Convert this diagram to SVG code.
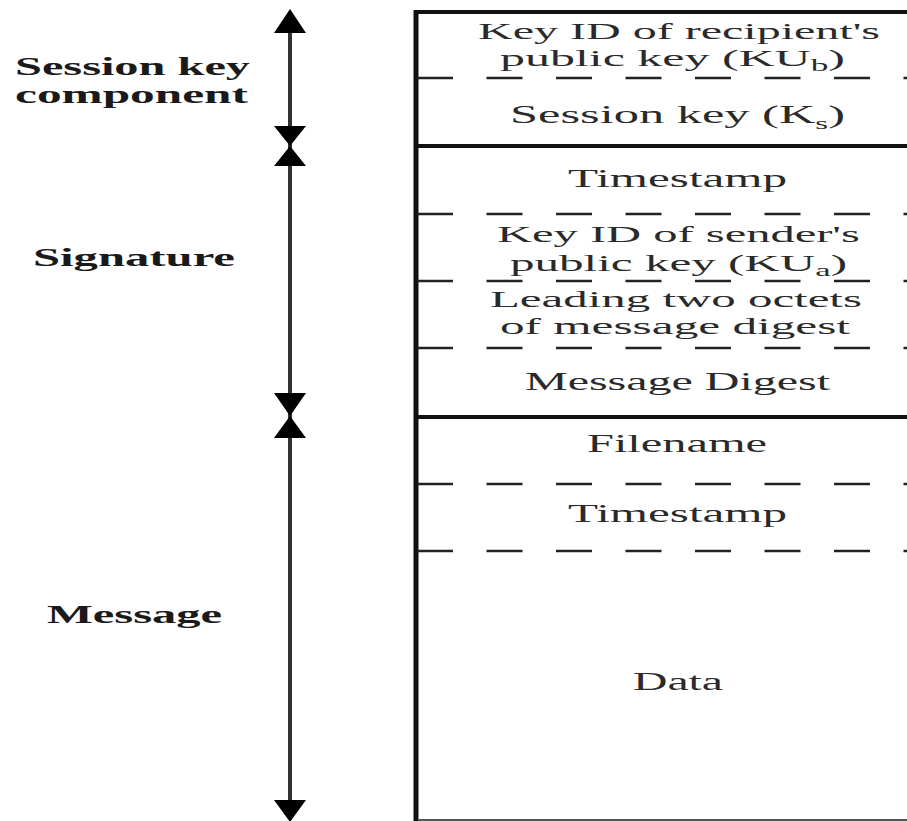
<svg xmlns="http://www.w3.org/2000/svg" width="907" height="821" viewBox="0 0 907 821">
<defs>
<style>
.lbl{font-family:"Liberation Serif","Times New Roman",serif;font-weight:bold;font-size:25px;fill:#1a1a1a}
.fld{font-family:"Liberation Serif","Times New Roman",serif;font-size:26px;fill:#2a2a2a}
.two{font-size:24px}
.sub{font-size:17px}
.solid{stroke:#111;stroke-width:4;fill:none}
.dash{stroke:#222;stroke-width:2.5;stroke-dasharray:36 33.5;fill:none}
.axis{stroke:#333;stroke-width:4;fill:none}
.head{fill:#000}
</style>
</defs>
<rect width="907" height="821" fill="#fff"/>

<g id="label-session"><text class="lbl" x="15" y="75" textLength="235" lengthAdjust="spacingAndGlyphs">Session key</text><text class="lbl" x="15" y="103" textLength="233" lengthAdjust="spacingAndGlyphs">component</text></g>
<g id="label-signature"><text class="lbl" x="33" y="266" textLength="202" lengthAdjust="spacingAndGlyphs">Signature</text></g>
<g id="label-message"><text class="lbl" x="47" y="623" textLength="175" lengthAdjust="spacingAndGlyphs">Message</text></g>

<g id="frame">
<line class="solid" x1="416" y1="12" x2="907" y2="12"/>
<line x1="416" y1="10" x2="416" y2="821" stroke="#111" stroke-width="5"/>
<line x1="418" y1="820" x2="907" y2="820" stroke="#555" stroke-width="2"/>
<line class="solid" x1="416" y1="146" x2="907" y2="146"/>
<line class="solid" x1="416" y1="417" x2="907" y2="417"/>
</g>

<g id="field-keyid-recipient"><text class="fld two" x="478" y="39" textLength="402" lengthAdjust="spacingAndGlyphs">Key ID of recipient's</text><text class="fld two" x="500" y="66" textLength="345" lengthAdjust="spacingAndGlyphs">public key (KU<tspan class="sub" dy="5">b</tspan><tspan dy="-5">)</tspan></text></g>
<line class="dash" x1="417" y1="78" x2="907" y2="78"/>
<g id="field-session-key"><text class="fld" x="510" y="123" textLength="335" lengthAdjust="spacingAndGlyphs">Session key (K<tspan class="sub" dy="6">s</tspan><tspan dy="-6">)</tspan></text></g>

<g id="field-sig-timestamp"><text class="fld" x="568" y="187" textLength="219" lengthAdjust="spacingAndGlyphs">Timestamp</text></g>
<line class="dash" x1="417" y1="214" x2="907" y2="214"/>
<g id="field-keyid-sender"><text class="fld two" x="497" y="242" textLength="363" lengthAdjust="spacingAndGlyphs">Key ID of sender's</text><text class="fld two" x="510" y="271" textLength="337" lengthAdjust="spacingAndGlyphs">public key (KU<tspan class="sub" dy="5">a</tspan><tspan dy="-5">)</tspan></text></g>
<line class="dash" x1="417" y1="281" x2="907" y2="281"/>
<g id="field-leading-octets"><text class="fld two" x="490" y="307" textLength="372" lengthAdjust="spacingAndGlyphs">Leading two octets</text><text class="fld two" x="500" y="334" textLength="350" lengthAdjust="spacingAndGlyphs">of message digest</text></g>
<line class="dash" x1="417" y1="348" x2="907" y2="348"/>
<g id="field-message-digest"><text class="fld" x="525" y="390" textLength="305" lengthAdjust="spacingAndGlyphs">Message Digest</text></g>

<g id="field-filename"><text class="fld" x="587" y="452" textLength="180" lengthAdjust="spacingAndGlyphs">Filename</text></g>
<line class="dash" x1="417" y1="484" x2="907" y2="484"/>
<g id="field-msg-timestamp"><text class="fld" x="568" y="522" textLength="219" lengthAdjust="spacingAndGlyphs">Timestamp</text></g>
<line class="dash" x1="417" y1="551" x2="907" y2="551"/>
<g id="field-data"><text class="fld" x="633" y="690" textLength="90" lengthAdjust="spacingAndGlyphs">Data</text></g>

<g id="connectors">
<line class="axis" x1="290" y1="20" x2="290" y2="812"/>
<polygon class="head" points="290,9 274,33 306,33"/>
<polygon class="head" points="274,126 306,126 290,146"/>
<polygon class="head" points="290,146 274,166 306,166"/>
<polygon class="head" points="274,393 306,393 290,416"/>
<polygon class="head" points="290,416 274,438 306,438"/>
<polygon class="head" points="274,800 306,800 290,822"/>
</g>
</svg>
